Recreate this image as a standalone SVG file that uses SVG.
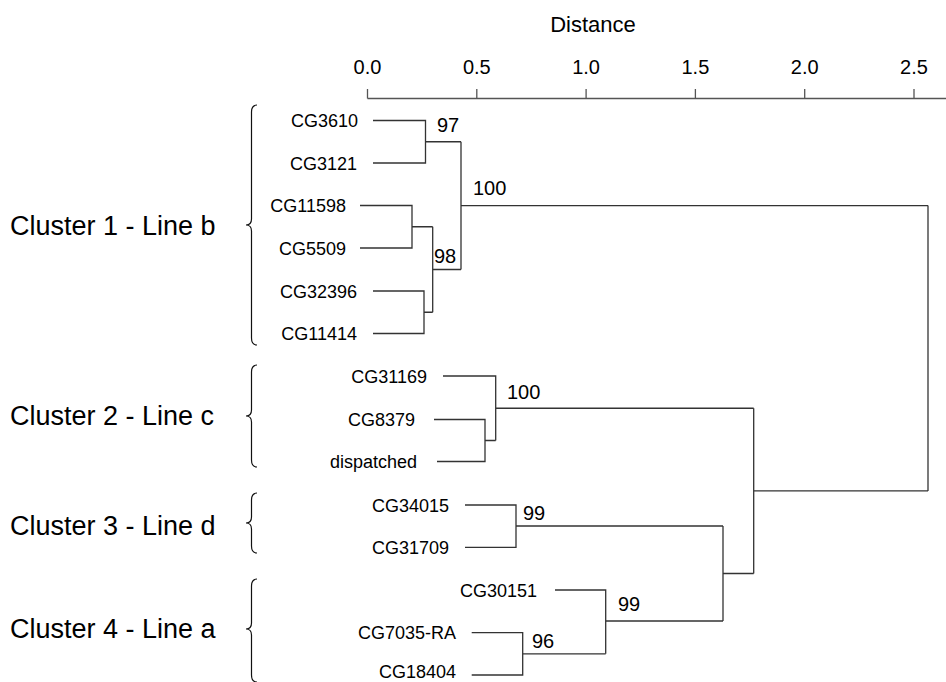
<svg xmlns="http://www.w3.org/2000/svg" width="946" height="682" viewBox="0 0 946 682">
  <style>
    text { font-family: "Liberation Sans", Arial, Helvetica, sans-serif; fill: #000; }
    .leaf { font-size: 18px; text-anchor: end; }
    .boot { font-size: 20px; }
    .tick { font-size: 20px; text-anchor: middle; }
    .cluster { font-size: 27px; }
    .title { font-size: 22px; text-anchor: middle; }
    .branch { fill: none; stroke: #333; stroke-width: 1.3; }
    .axis { fill: none; stroke: #555; stroke-width: 1.3; }
    .brace { fill: none; stroke: #111; stroke-width: 1.2; }
  </style>

  <!-- distance axis -->
  <g id="axis">
    <text class="title" x="593" y="32">Distance</text>
    <path class="axis" d="M367.5 98.5 H946 M367.5 89 V98.5 M476.8 89 V98.5 M586.1 89 V98.5 M695.4 89 V98.5 M804.7 89 V98.5 M914 89 V98.5"/>
    <text class="tick" x="367.5" y="74">0.0</text>
    <text class="tick" x="476.8" y="74">0.5</text>
    <text class="tick" x="586.1" y="74">1.0</text>
    <text class="tick" x="695.4" y="74">1.5</text>
    <text class="tick" x="804.7" y="74">2.0</text>
    <text class="tick" x="914" y="74">2.5</text>
  </g>

  <!-- cluster labels with braces -->
  <g id="cluster1">
    <text class="cluster" x="10" y="235">Cluster 1 - Line b</text>
    <path class="brace" d="M257 105 Q251.5 105 251.5 112 L251.5 219 Q251.5 225 246 225 Q251.5 225 251.5 231 L251.5 338 Q251.5 345 257 345"/>
  </g>
  <g id="cluster2">
    <text class="cluster" x="10" y="425">Cluster 2 - Line c</text>
    <path class="brace" d="M257 365 Q251.5 365 251.5 372 L251.5 410 Q251.5 416 246 416 Q251.5 416 251.5 422 L251.5 460 Q251.5 467 257 467"/>
  </g>
  <g id="cluster3">
    <text class="cluster" x="10" y="535">Cluster 3 - Line d</text>
    <path class="brace" d="M257 493 Q251.5 493 251.5 500 L251.5 517 Q251.5 523 246 523 Q251.5 523 251.5 529 L251.5 546 Q251.5 553 257 553"/>
  </g>
  <g id="cluster4">
    <text class="cluster" x="10" y="638">Cluster 4 - Line a</text>
    <path class="brace" d="M257 579 Q251.5 579 251.5 586 L251.5 623 Q251.5 629 246 629 Q251.5 629 251.5 635 L251.5 675 Q251.5 682 257 682"/>
  </g>

  <!-- leaves -->
  <g id="leaf-CG3610"><text class="leaf" x="358" y="127">CG3610</text></g>
  <g id="leaf-CG3121"><text class="leaf" x="357" y="169.5">CG3121</text></g>
  <g id="leaf-CG11598"><text class="leaf" x="346" y="212">CG11598</text></g>
  <g id="leaf-CG5509"><text class="leaf" x="346" y="254.5">CG5509</text></g>
  <g id="leaf-CG32396"><text class="leaf" x="357" y="297.5">CG32396</text></g>
  <g id="leaf-CG11414"><text class="leaf" x="357" y="340">CG11414</text></g>
  <g id="leaf-CG31169"><text class="leaf" x="427" y="382.5">CG31169</text></g>
  <g id="leaf-CG8379"><text class="leaf" x="415" y="426">CG8379</text></g>
  <g id="leaf-dispatched"><text class="leaf" x="417" y="468">dispatched</text></g>
  <g id="leaf-CG34015"><text class="leaf" x="449" y="511.5">CG34015</text></g>
  <g id="leaf-CG31709"><text class="leaf" x="449" y="554">CG31709</text></g>
  <g id="leaf-CG30151"><text class="leaf" x="537" y="596.5">CG30151</text></g>
  <g id="leaf-CG7035-RA"><text class="leaf" x="456" y="639">CG7035-RA</text></g>
  <g id="leaf-CG18404"><text class="leaf" x="456" y="678">CG18404</text></g>

  <!-- bootstrap support values -->
  <g id="support">
    <text class="boot" x="437" y="132">97</text>
    <text class="boot" x="434" y="263">98</text>
    <text class="boot" x="473" y="195">100</text>
    <text class="boot" x="507" y="399">100</text>
    <text class="boot" x="523" y="520">99</text>
    <text class="boot" x="532" y="648">96</text>
    <text class="boot" x="618" y="611">99</text>
  </g>

  <!-- dendrogram branches -->
  <g id="connectors">
    <!-- cluster 1 -->
    <path class="branch" d="M373 120.5 H425.5 V163 H373 M425.5 141.75 H461"/>
    <path class="branch" d="M360 205.5 H412 V248 H360 M412 226.75 H432.7"/>
    <path class="branch" d="M373 291 H424 V333.5 H373 M424 312.25 H432.7"/>
    <path class="branch" d="M432.7 226.75 V312.25 M432.7 269.5 H461"/>
    <path class="branch" d="M461 141.75 V269.5 M461 205.6 H928"/>
    <!-- cluster 2 -->
    <path class="branch" d="M434 419.5 H485 V461.5 H437 M485 440.5 H495.7"/>
    <path class="branch" d="M443 376 H495.7 V440.5 M495.7 408.25 H753.7"/>
    <!-- cluster 3 -->
    <path class="branch" d="M465 505 H516 V547.3 H465 M516 526 H723"/>
    <!-- cluster 4 -->
    <path class="branch" d="M471.7 632.7 H522.7 V675 H471.7 M522.7 653.85 H605.7"/>
    <path class="branch" d="M555 590 H605.7 V653.85 M605.7 621 H723"/>
    <!-- upper joins -->
    <path class="branch" d="M723 526 V621 M723 573.5 H753.7"/>
    <path class="branch" d="M753.7 408.25 V573.5 M753.7 490.9 H928"/>
    <path class="branch" d="M928 205.6 V490.9"/>
  </g>
</svg>
